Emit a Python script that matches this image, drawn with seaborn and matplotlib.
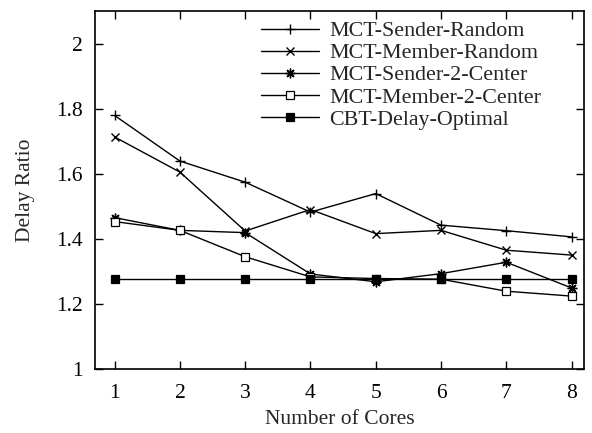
import matplotlib
matplotlib.use("Agg")
import matplotlib.pyplot as plt
import seaborn as sns
import pandas as pd

cores = [1, 2, 3, 4, 5, 6, 7, 8]
sender_random = [1.779, 1.639, 1.574, 1.482, 1.539, 1.442, 1.425, 1.406]
member_random = [1.713, 1.605, 1.424, 1.490, 1.416, 1.426, 1.365, 1.350]
sender_2center = [1.465, 1.426, 1.419, 1.292, 1.268, 1.293, 1.328, 1.249]
member_2center = [1.453, 1.426, 1.345, 1.283, 1.278, 1.276, 1.239, 1.224]
cbt_optimal = [1.276, 1.276, 1.276, 1.276, 1.276, 1.276, 1.276, 1.276]

series_names = ["MCT-Sender-Random", "MCT-Member-Random", "MCT-Sender-2-Center",
                "MCT-Member-2-Center", "CBT-Delay-Optimal"]
series_values = [sender_random, member_random, sender_2center, member_2center, cbt_optimal]

x_ticks = [1, 2, 3, 4, 5, 6, 7, 8]
y_ticks = [1, 1.2, 1.4, 1.6, 1.8, 2]
y_tick_labels = ["1", "1.2", "1.4", "1.6", "1.8", "2"]

sns.set_style("ticks")
plt.rcParams["font.family"] = ["Liberation Serif", "DejaVu Serif"]

FS = 15.5

fig = plt.figure(figsize=(5.92, 4.33), dpi=100)
ax = fig.add_axes([0.1605, 0.1478, 0.8260, 0.8268])

styles = [
    dict(marker="+", markersize=7, markerfacecolor="black", markeredgewidth=1.0),
    dict(marker="x", markersize=5.5, markerfacecolor="black", markeredgewidth=1.0),
    dict(marker=(8, 2, 0), markersize=7, markerfacecolor="black", markeredgewidth=1.0),
    dict(marker="s", markersize=5.5, markerfacecolor="white", markeredgewidth=0.9),
    dict(marker="s", markersize=6, markerfacecolor="black", markeredgewidth=0.9),
]

for name, vals, st in zip(series_names, series_values, styles):
    df = pd.DataFrame({"cores": cores, "ratio": vals})
    sns.lineplot(data=df, x="cores", y="ratio", ax=ax, color="black", linewidth=1.0,
                 markeredgecolor="black", label=name, **st)

ax.set_xlim(0.70, 8.19)
ax.set_ylim(1.0, 2.1)
ax.set_xticks(x_ticks)
ax.set_xticklabels([str(t) for t in x_ticks])
ax.set_yticks(y_ticks)
ax.set_yticklabels(y_tick_labels)
ax.tick_params(direction="in", length=6, width=1, top=True, right=True,
               labelsize=FS, colors="black")
ax.tick_params(axis="x", pad=11)
ax.tick_params(axis="y", pad=9)
for sp in ax.spines.values():
    sp.set_linewidth(1.2)
    sp.set_color("black")

ax.set_xlabel("Number of Cores", fontsize=FS, labelpad=5)
ax.set_ylabel("Delay Ratio", fontsize=FS, labelpad=15)

leg = ax.legend(loc="upper right", frameon=False, fontsize=15.8, handlelength=2.65,
                handletextpad=0.45, labelspacing=0.08, borderaxespad=0.0,
                numpoints=1, bbox_to_anchor=(0.930, 0.997))

fig.savefig("out.png", dpi=100)
